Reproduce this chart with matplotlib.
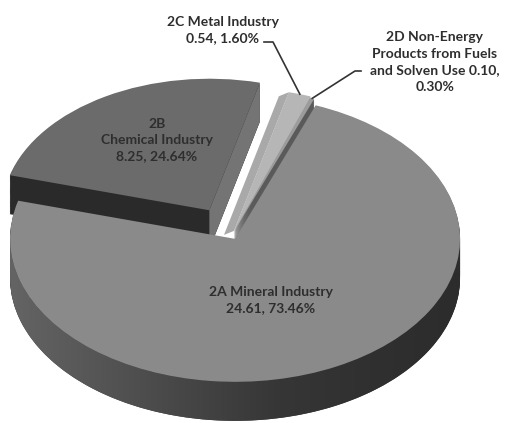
import numpy as np
import matplotlib.pyplot as plt
from matplotlib.patches import Polygon
from matplotlib.colors import LinearSegmentedColormap

# emissions by source category (value, share of total)
names = ['2A Mineral Industry', '2B\nChemical Industry', '2C Metal Industry',
         '2D Non-Energy\nProducts from Fuels\nand Solven Use']
values = [24.61, 8.25, 0.54, 0.10]
shares = [73.46, 24.64, 1.60, 0.30]

top_colors = ['#8a8a8a', '#6b6b6b', '#b6b6b6', '#9c9c9c']
side_colors = ['#3a3a3a', '#2a2a2a', '#a8a8a8', '#5a5a5a']
explode = [0.03, 0.2, 0.03, 0.02]
radius = [1.0, 0.92, 1.0, 1.0]    # the back slice looks smaller in perspective

W, H = 505, 423
CX, CY = 232, 235      # pie centre, pixels
RX, RY = 225, 143      # projected radii, pixels
DEPTH = 39 / RY
START = 69             # degrees, counter-clockwise from +x
N_LAYERS = 42


def to_data(px, py):
    return (px - CX) / RX, (CY - py) / RY


def draw_pie(colors, dy, zorder):
    # one pie call per radius, the other slices left transparent
    out = [None] * len(values)
    for r in sorted(set(radius)):
        cols = [c if radius[i] == r else 'none' for i, c in enumerate(colors)]
        ws, _ = ax.pie(values, explode=explode, colors=cols, radius=r,
                       startangle=START, counterclock=False, center=(0, dy),
                       wedgeprops=dict(linewidth=0, zorder=zorder))
        for i, w in enumerate(ws):
            if radius[i] == r:
                out[i] = w
    return out


plt.rcParams['font.family'] = ['Lato', 'DejaVu Sans']

fig = plt.figure(figsize=(W / 100, H / 100), dpi=100)
ax = fig.add_axes([0, 0, 1, 1])

# stacked copies give the pie its thickness
for i in range(N_LAYERS):
    draw_pie(side_colors, -DEPTH * (N_LAYERS - i) / N_LAYERS, 1)

wedges = draw_pie(top_colors, 0, 3)


def edge(w, theta):
    t = np.deg2rad(theta)
    cx, cy = w.center
    return np.array([cx, cy]), np.array([cx + w.r * np.cos(t), cy + w.r * np.sin(t)])


down = np.array([0, -DEPTH])

# outer wall of the big slice, shaded from left to right
wa = wedges[0]
t = np.linspace(np.pi, 2 * np.pi, 200)
rim = np.column_stack([wa.center[0] + wa.r * np.cos(t), wa.center[1] + wa.r * np.sin(t)])
wall = Polygon(np.vstack([rim, (rim + down)[::-1]]), closed=True,
               facecolor='none', edgecolor='none', zorder=2)
ax.add_patch(wall)
wall_cmap = LinearSegmentedColormap.from_list(
    'wall', ['#646464', '#555555', '#454545', '#363636', '#303030', '#2c2c2c'])
grad = np.linspace(0, 1, 256).reshape(1, -1)
x0, x1 = wa.center[0] - wa.r, wa.center[0] + wa.r
y0, y1 = wa.center[1] - wa.r - DEPTH, wa.center[1]
im = ax.imshow(grad, cmap=wall_cmap, extent=[x0, x1, y0, y1], aspect='auto',
               zorder=2, interpolation='bilinear')
im.set_clip_path(wall)

# cut face on the right side of 2B
wb = wedges[1]
a, o = edge(wb, wb.theta1)
ax.add_patch(Polygon([a, o, o + down, a + down], closed=True,
                     facecolor='#747474', edgecolor='none', zorder=2))

# cut face on the left side of 2C, seen from slightly above
wc = wedges[2]
a, o = edge(wc, wc.theta2)
shift = np.array([-10 / RX, -4 / RY])
ax.add_patch(Polygon([a, o, o + shift, a + shift], closed=True,
                     facecolor='#a9a9a9', edgecolor='none', zorder=2))

txt = dict(ha='center', va='center', fontsize=10, fontweight='bold',
           color='#2e2e2e', linespacing=1.45, zorder=5)

lab = [f'{n}\n{v:.2f}, {s:.2f}%' for n, v, s in zip(names, values, shares)]
ax.text(*to_data(271, 300), lab[0], **txt)
ax.text(*to_data(157, 140), lab[1], **txt)
ax.text(*to_data(223, 30), lab[2], **txt)
ax.text(*to_data(435, 62), f'{names[3]} {values[3]:.2f},\n{shares[3]:.2f}%', **txt)


def arc_point(w):
    tm = np.deg2rad((w.theta1 + w.theta2) / 2)
    return w.center[0] + w.r * np.cos(tm), w.center[1] + w.r * np.sin(tm)


# leader lines for the two thin slices
for w, anchor, elbow in [(wedges[2], (264, 42), (273, 42)),
                         (wedges[3], (361, 71), (355, 71))]:
    p0 = to_data(*anchor)
    p1 = to_data(*elbow)
    p2 = arc_point(w)
    ax.plot([p0[0], p1[0], p2[0]], [p0[1], p1[1], p2[1]],
            color='#333333', lw=1.2, zorder=5)

ax.set_xlim(to_data(0, 0)[0], to_data(W, 0)[0])
ax.set_ylim(to_data(0, H)[1], to_data(0, 0)[1])
ax.set_aspect('auto')
ax.axis('off')

fig.savefig('out.png', dpi=100)
